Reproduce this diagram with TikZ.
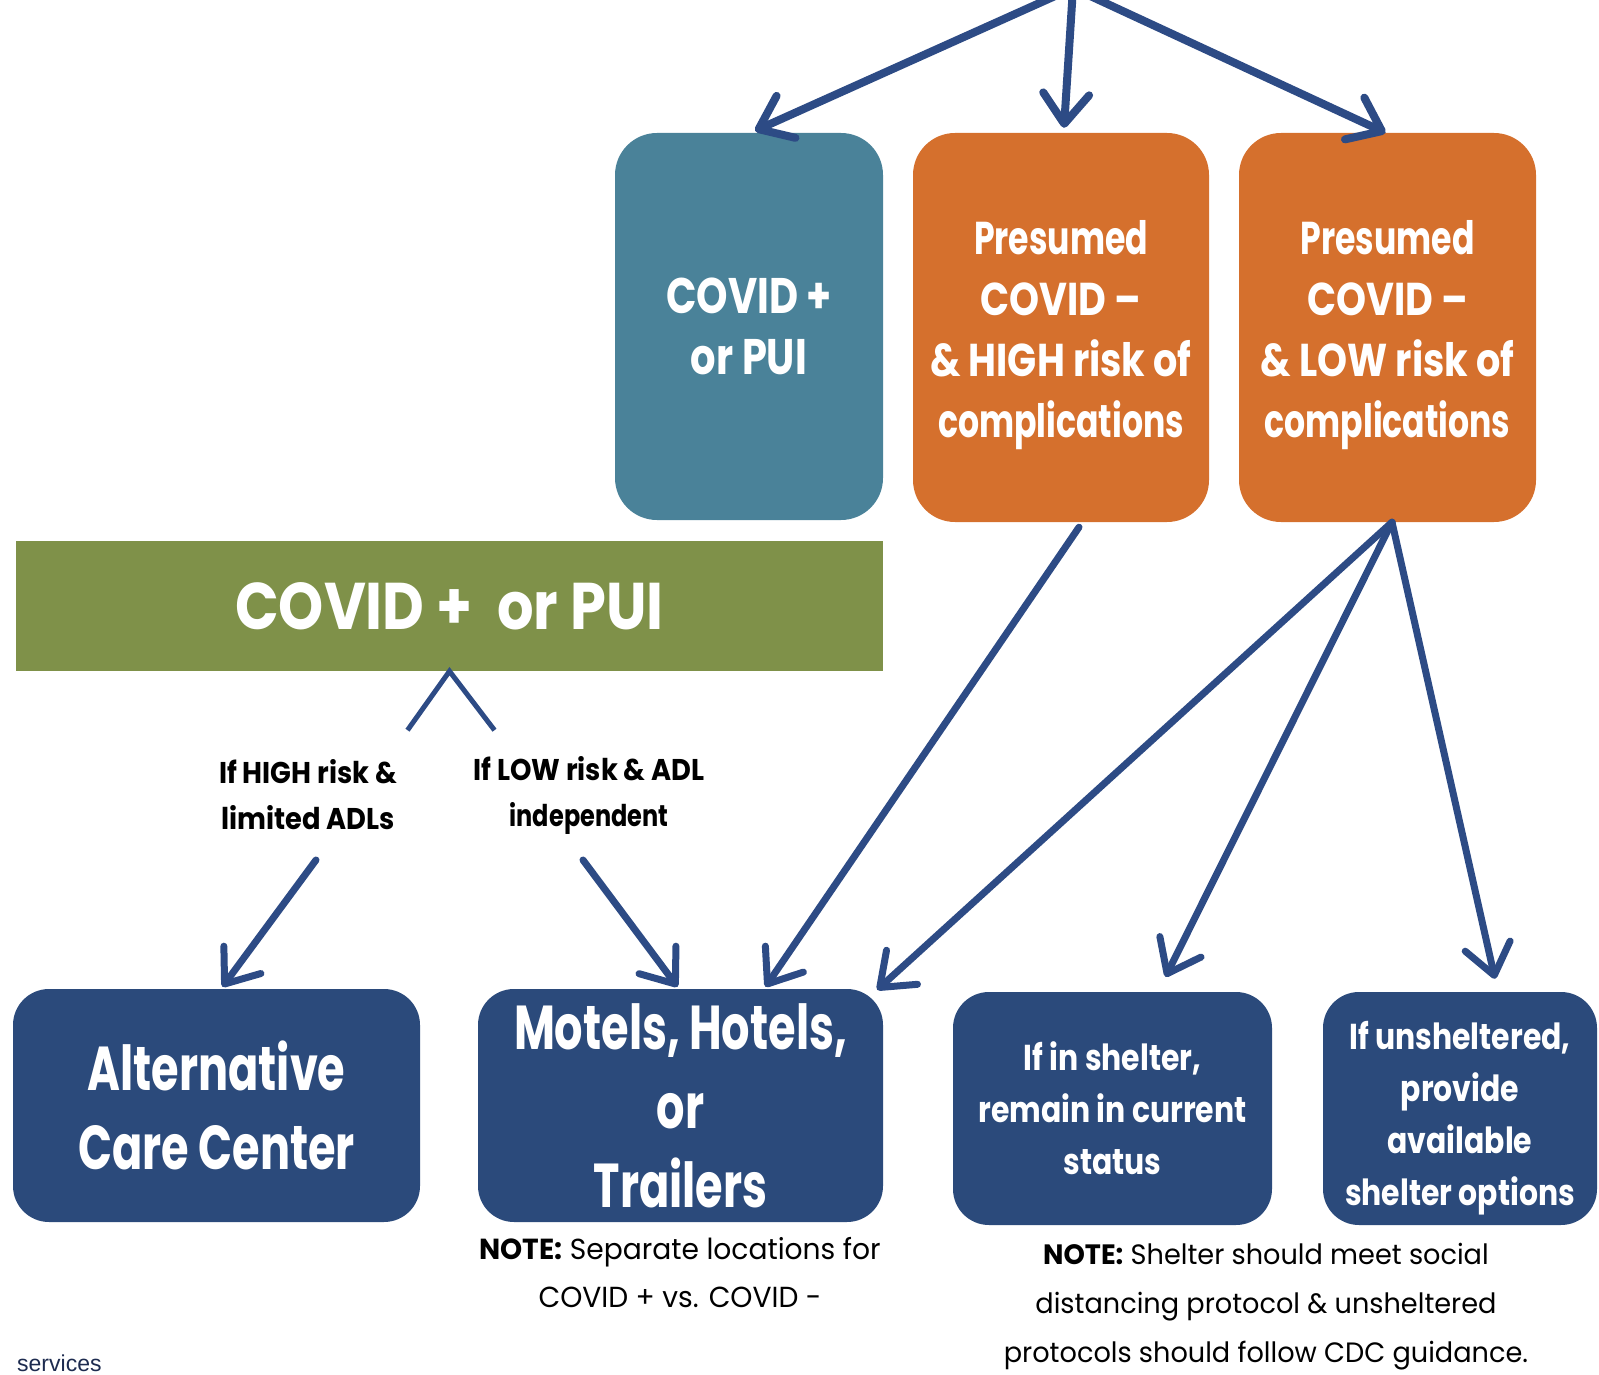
\documentclass[tikz,border=0pt]{standalone}
\usepackage{fontspec}
\setmainfont{Poppins}
\newfontfamily\bcf{Poppins}[FakeStretch=0.72]
\newfontfamily\bcg{Poppins}[FakeStretch=0.80]
\newfontfamily\bch{Poppins}[FakeStretch=0.83]
\newfontfamily\bci{Poppins}[FakeStretch=0.87]
\newfontfamily\bcj{Poppins}[FakeStretch=0.91]
\newfontfamily\ntf{Poppins}[FakeStretch=0.97]
\newfontfamily\arf{Liberation Sans}
\usetikzlibrary{arrows.meta,calc}
\definecolor{tealc}{HTML}{4A8299}
\definecolor{orangec}{HTML}{D5702D}
\definecolor{greenc}{HTML}{7F9149}
\definecolor{navyc}{HTML}{2B4A7B}
\definecolor{arrowc}{HTML}{2D4B85}
\definecolor{svcc}{HTML}{1D2B4F}
\tikzset{
  boxs/.style={rectangle, rounded corners=42pt, inner sep=0pt, align=center, text=white},
  flow/.style={draw=arrowc, line width=7pt, line cap=round,
     -{Straight Barb[length=30pt,width=46pt,line cap=round,line join=round]}},
  caret/.style={draw=arrowc, line width=5pt},
  lbl/.style={align=center, text=black, inner sep=0pt, font={\bcj\bfseries\fontsize{30}{46}\selectfont}},
  notes/.style={align=center, text=black, inner sep=0pt},
  otext/.style={align=center, text=white, inner sep=0pt, font={\bch\bfseries\fontsize{46}{61}\selectfont}},
  utext/.style={align=center, text=white, inner sep=0pt, font={\bch\bfseries\fontsize{36}{52}\selectfont}}
}
\begin{document}
\begin{tikzpicture}[x=1pt,y=-1pt]
\useasboundingbox (0,0) rectangle (1599,1375);
% top boxes
\node[boxs, fill=tealc, minimum width=268pt, minimum height=387pt,
  font={\bcg\bfseries\fontsize{50}{61}\selectfont}] (teal) at (749,326.5) {COVID +\\or PUI};
\node[boxs, fill=orangec, minimum width=296pt, minimum height=389pt] (o1) at (1061,327.5) {};
\node[otext] (o1t) at ($(o1.center)+(0,8)$) {{\bcf Presumed}\\COVID –\\\& HIGH risk of\\{\bcf complications}};
\node[boxs, fill=orangec, minimum width=297pt, minimum height=389pt] (o2) at (1387.5,327.5) {};
\node[otext] (o2t) at ($(o2.center)+(0,8)$) {{\bcf Presumed}\\COVID –\\\& LOW risk of\\{\bcf complications}};
% green bar
\node[rectangle, fill=greenc, minimum width=867pt, minimum height=130pt, inner sep=0pt, text=white,
  font={\bci\bfseries\fontsize{66}{70}\selectfont}] (g) at (449.5,606) {COVID +\ \ or PUI};
% bottom boxes
\node[boxs, rounded corners=36pt, fill=navyc, minimum width=407pt, minimum height=233pt,
  font={\bcf\bfseries\fontsize{62}{79}\selectfont}] (alt) at (216.5,1105.5) {Alternative\\Care Center};
\node[boxs, rounded corners=36pt, fill=navyc, minimum width=405pt, minimum height=233pt,
  font={\bcf\bfseries\fontsize{62}{79}\selectfont}] (mot) at (680.5,1105.5) {Motels, Hotels,\\or\\Trailers};
\node[boxs, rounded corners=36pt, fill=navyc, minimum width=319pt, minimum height=233pt,
  font={\bch\bfseries\fontsize{36}{52}\selectfont}] (sh) at (1112.5,1108.5) {If in shelter,\\remain in current\\status};
\node[boxs, rounded corners=36pt, fill=navyc, minimum width=274pt, minimum height=233pt] (uns) at (1460,1108.5) {};
\node[utext] (unst) at ($(uns.center)+(0,10)$) {If unsheltered,\\provide\\available\\shelter options};
% labels
\node[lbl] (hi) at (308,795) {If HIGH risk \&\\limited ADLs};
\node[lbl] (lo) at (589,795) {If LOW risk \& ADL\\{\bcg independent}};
% notes
\node[notes, font={\ntf\fontsize{29}{48}\selectfont}] (n1) at (680,1273) {\textbf{NOTE:} Separate locations for\\COVID + vs. COVID -};
\node[notes, font={\ntf\fontsize{28}{49}\selectfont}] (n2) at (1266,1307) {\textbf{NOTE:} Shelter should meet social\\distancing protocol \& unsheltered\\protocols should follow CDC guidance.};
\node[anchor=base west, inner sep=0pt, text=svcc, font={\arf\fontsize{23}{26}\selectfont}] (svc) at (17,1371) {services};
% coordinates
\coordinate (top) at (1073,-12);
\coordinate (hiS) at (316,860);
\coordinate (loS) at (583,860);
% top arrows
\draw[flow, line width=8pt] (top) -- ($(teal.north)+(6,-2)$);
\draw[flow, line width=8pt] (top) -- ($(o1.north)+(3,-5)$);
\draw[flow, line width=8pt] (top) -- ($(o2.north)+(-2,0)$);
% caret
\draw[caret] ($(g.south)+(-42,59)$) -- (g.south) -- ($(g.south)+(45,59)$);
% label arrows
\draw[flow] (hiS) -- ($(alt.north)+(6,-2)$);
\draw[flow] (loS) -- ($(mot.north)+(-3,-2)$);
% orange arrows
\draw[flow] ($(o1.south)+(18,5)$) -- ($(mot.north)+(85,-2)$);
\draw[flow] ($(o2.south)+(4.5,0)$) -- ($(mot.north east)+(-6,1)$);
\draw[flow] ($(o2.south)+(4.5,0)$) -- ($(sh.north)+(53,-15)$);
\draw[flow] ($(o2.south)+(4.5,0)$) -- ($(uns.north)+(35,-13)$);
\end{tikzpicture}
\end{document}
